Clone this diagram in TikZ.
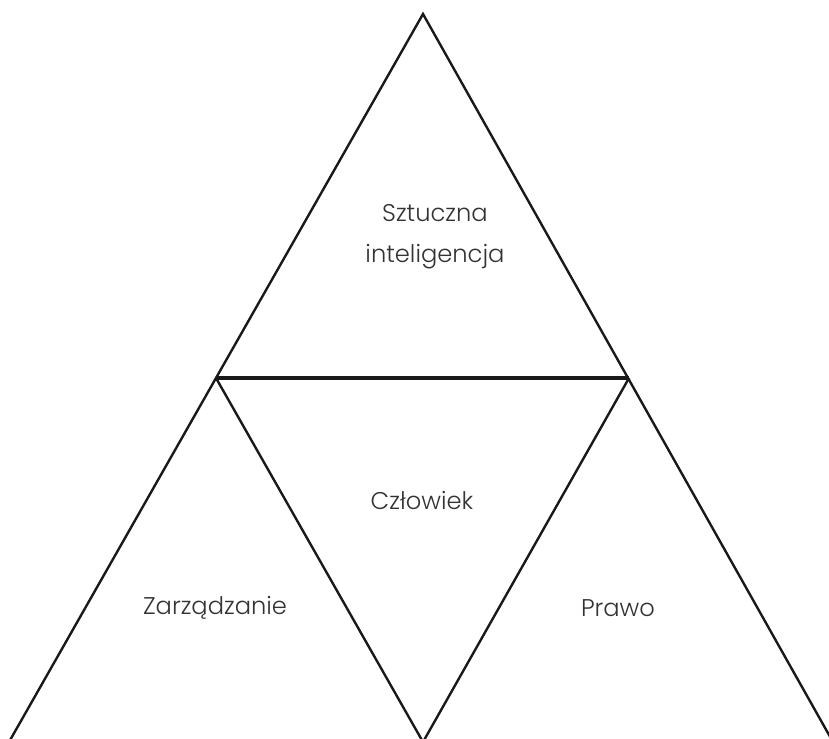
\documentclass[tikz,border=0pt]{standalone}
\usepackage{fontspec}
\setmainfont{Poppins}[UprightFont=* Light]
\usetikzlibrary{positioning}
\begin{document}
\begin{tikzpicture}[
    x=0.025cm, y=-0.025cm,
    edge/.style={draw=black!90, line width=1.7pt, line join=miter},
    midedge/.style={draw=black!90, line width=2.3pt},
    lbl/.style={font=\fontsize{17.2}{29}\selectfont, text=black!80, align=center}
]
    \useasboundingbox (0,0) rectangle (829,738);
    \clip (0,0) rectangle (829,738);

    % Vertices
    \coordinate (apex) at (423,14);
    \coordinate (midL) at (216,378);
    \coordinate (midR) at (629,378);
    \coordinate (botL) at (9,742);
    \coordinate (botM) at (423,742);
    \coordinate (botR) at (833,742);

    \draw[edge] (botL) -- (apex) -- (botR);
    \draw[edge] (midL) -- (botM) -- (midR);
    \draw[midedge] (midL) -- (midR);

    % Labels
    \node[lbl] (ai) at (435,237) {Sztuczna\\inteligencja};
    \node[lbl] (human) at (422,500) {Człowiek};
    \node[lbl] (mgmt) at (215,608) {Zarządzanie};
    \node[lbl] (law) at (618,608) {Prawo};
\end{tikzpicture}
\end{document}
